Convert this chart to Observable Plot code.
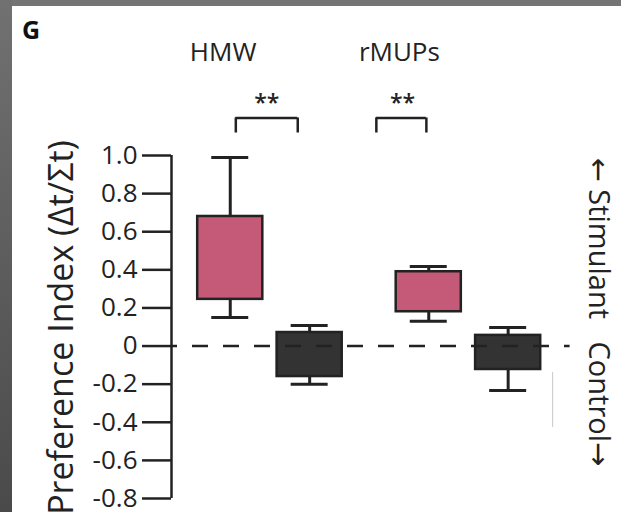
<!DOCTYPE html>
<html>
<head>
<meta charset="utf-8">
<script src="https://cdn.jsdelivr.net/npm/d3@7"></script>
<script src="https://cdn.jsdelivr.net/npm/@observablehq/plot@0.6"></script>
<style>
  html, body { margin: 0; padding: 0; background: #ffffff; }
  #wrap { position: relative; width: 621px; height: 512px; overflow: hidden; background: #fff; }
  #wrap svg { position: absolute; left: 0; top: 0; }
  #borderTop { position: absolute; left: 0; top: 0; width: 621px; height: 6px; background: #747474; }
  #borderLeft { position: absolute; left: 0; top: 0; width: 12px; height: 512px; background: linear-gradient(#717171, #4a4a4a); }
  #panel { position: absolute; left: 22px; top: 12px; font: bold 25px "Open Sans", sans-serif; color: #111; }
</style>
</head>
<body>
<div id="wrap">
  <div id="chart"></div>
  <div id="borderTop"></div>
  <div id="borderLeft"></div>
  <div id="panel">G</div>
</div>
<script>
// ---- data ----
const groups = ["HMW", "HMW", "rMUPs", "rMUPs"];
const conditions = ["Stimulant", "Control", "Stimulant", "Control"];
const xPos = [1, 2, 3.5, 4.5];
const whiskerLow = [0.15, -0.20, 0.13, -0.233];
const q1 = [0.245, -0.16, 0.18, -0.123];
const q3 = [0.68, 0.071, 0.39, 0.056];
const whiskerHigh = [0.99, 0.108, 0.418, 0.098];

const groupLabels = ["HMW", "rMUPs"];
const groupLabelX = [0.91, 3.13];
const sigLabels = ["**", "**"];
const sigX = [1.46, 3.17];
const bracketX1 = [1.07, 2.84];
const bracketX2 = [1.85, 3.47];

// faint stray vertical line visible in the source figure
const strayX = [5.06];
const strayY1 = [-0.139];
const strayY2 = [-0.427];

const yTicks = [-0.8, -0.6, -0.4, -0.2, 0, 0.2, 0.4, 0.6, 0.8, 1.0];
const yTitle = "Preference Index (\u0394t/\u03a3t)";
const sideLabel = "\u2190 Stimulant\u00a0\u00a0\u00a0Control\u2192";

const xDomain = [0.26, 5.6];
const yDomain = [-0.8, 1.0];
const zeroLineEnd = 5.28;

const boxes = groups.map((g, i) => ({
  group: g, condition: conditions[i], x: xPos[i],
  lo: whiskerLow[i], q1: q1[i], q3: q3[i], hi: whiskerHigh[i]
}));
const labels = groupLabels.map((t, i) => ({t, x: groupLabelX[i]}));
const sigs = sigLabels.map((t, i) => ({t, x: sigX[i]}));
const brackets = bracketX1.map((a, i) => ({x1: a, x2: bracketX2[i]}));
const strays = strayX.map((x, i) => ({x, y1: strayY1[i], y2: strayY2[i]}));

const halfBox = 0.41, halfCap = 0.233;
const ink = "#222222";

const chart = Plot.plot({
  width: 621,
  height: 512,
  marginLeft: 171,
  marginRight: 26,
  marginTop: 155,
  marginBottom: 14,
  style: {fontFamily: "'Open Sans', sans-serif", background: "transparent", color: ink},
  x: {domain: xDomain, axis: null},
  y: {domain: yDomain},
  color: {domain: ["Stimulant", "Control"], range: ["#c55a78", "#333333"]},
  marks: [
    Plot.ruleX(strays, {x: "x", y1: "y1", y2: "y2", stroke: "#c8c8c8", strokeWidth: 1}),
    // whiskers
    Plot.ruleX(boxes, {x: "x", y1: "q3", y2: "hi", stroke: ink, strokeWidth: 3}),
    Plot.ruleX(boxes, {x: "x", y1: "lo", y2: "q1", stroke: ink, strokeWidth: 3}),
    Plot.ruleY(boxes, {y: "hi", x1: d => d.x - halfCap, x2: d => d.x + halfCap, stroke: ink, strokeWidth: 3}),
    Plot.ruleY(boxes, {y: "lo", x1: d => d.x - halfCap, x2: d => d.x + halfCap, stroke: ink, strokeWidth: 3}),
    // boxes
    Plot.rect(boxes, {x1: d => d.x - halfBox, x2: d => d.x + halfBox, y1: "q1", y2: "q3",
      fill: "condition", stroke: ink, strokeWidth: 2.5}),
    // dashed zero line
    Plot.ruleY([0], {x1: xDomain[0], x2: zeroLineEnd, stroke: ink, strokeWidth: 2.5,
      strokeDasharray: "16,15", strokeDashoffset: 10}),
    // y axis
    Plot.ruleX([xDomain[0]], {y1: yDomain[0], y2: yDomain[1], stroke: ink, strokeWidth: 2.5}),
    Plot.axisY(yTicks, {anchor: "left", tickSize: 29, tickPadding: 5, fontSize: 26,
      strokeWidth: 2.5, stroke: ink, fill: ink, label: null,
      tickFormat: d => d === 0 ? "0" : d.toFixed(1)}),
    Plot.text([yTitle], {x: xDomain[0], y: 1.08, rotate: -90, textAnchor: "end", lineAnchor: "middle",
      dx: -109, fontSize: 34, fill: ink}),
    Plot.text([sideLabel], {x: xDomain[1], y: 0.99, rotate: 90, textAnchor: "start", lineAnchor: "middle",
      dx: 3, fontSize: 29, fill: ink}),
    // group labels, significance
    Plot.text(labels, {x: "x", y: 1.54, text: "t", fontSize: 26, fill: ink, lineAnchor: "middle"}),
    Plot.text(sigs, {x: "x", y: 1.27, text: "t", fontSize: 23, fontWeight: 600, fill: ink, lineAnchor: "middle"}),
    Plot.ruleY(brackets, {y: 1.197, x1: "x1", x2: "x2", stroke: ink, strokeWidth: 2.5}),
    Plot.ruleX(brackets, {x: "x1", y1: 1.197, y2: 1.118, stroke: ink, strokeWidth: 2.5}),
    Plot.ruleX(brackets, {x: "x2", y1: 1.197, y2: 1.118, stroke: ink, strokeWidth: 2.5})
  ]
});

// render arrow glyphs with a font that has full-size arrows
chart.querySelectorAll("text").forEach(t => {
  const s = t.textContent;
  if (!/[\u2190\u2192]/.test(s)) return;
  const parts = s.split(/([\u2190\u2192])/).filter(p => p.length);
  while (t.firstChild) t.removeChild(t.firstChild);
  for (const p of parts) {
    const ts = document.createElementNS("http://www.w3.org/2000/svg", "tspan");
    if (/[\u2190\u2192]/.test(p)) ts.setAttribute("font-family", "DejaVu Sans");
    ts.textContent = p;
    t.appendChild(ts);
  }
});
document.getElementById("chart").appendChild(chart);
</script>
</body>
</html>
